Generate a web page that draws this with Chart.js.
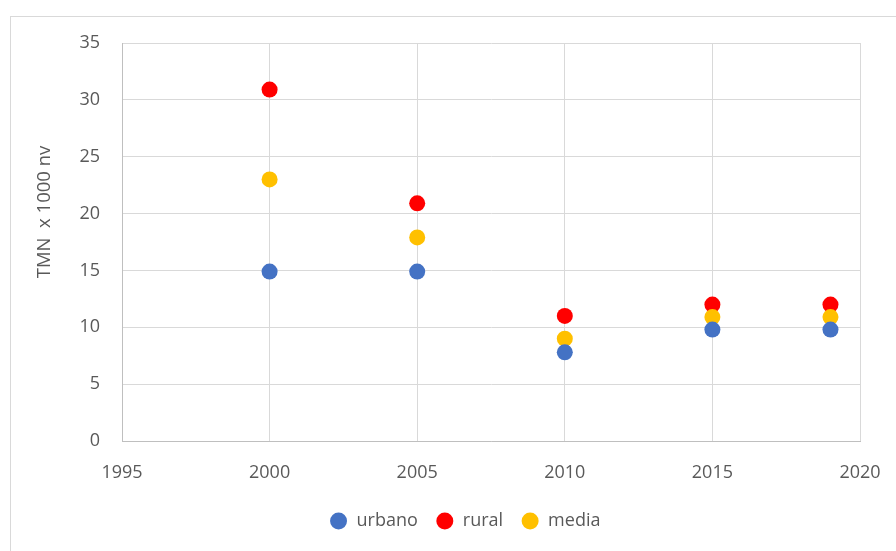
<!DOCTYPE html>
<html>
<head>
<meta charset="utf-8">
<script src="https://cdn.jsdelivr.net/npm/chart.js@4.4.1/dist/chart.umd.min.js"></script>
<style>
  body { margin: 0; background: #fff; }
  #frame {
    position: absolute; left: 10px; top: 16px;
    width: 900px; height: 600px;
    border: 1px solid #d9d9d9;
  }
  #wrap { position: absolute; left: 0; top: 0; width: 896px; height: 551px; }
</style>
</head>
<body>
<div id="frame"></div>
<div id="wrap"><canvas id="chart" width="896" height="551"></canvas></div>
<script>
const years = [2000, 2005, 2010, 2015, 2019];
const urbano = [14.9, 14.9, 7.8, 9.8, 9.8];
const rural = [30.9, 20.9, 11, 12, 12];
const media = [23, 17.9, 9, 10.9, 10.9];
const yTitle = "TMN  x 1000 nv";

const FONT = "'Open Sans', sans-serif";
const TEXT = "#595959";

const toPoints = (vals) => years.map((x, i) => ({ x: x, y: vals[i] }));

// rotated y-axis title, sitting left of the tick labels
const yTitlePlugin = {
  id: "yTitle",
  afterDraw(chart) {
    const ctx = chart.ctx;
    ctx.save();
    ctx.translate(45, 212);
    ctx.rotate(-Math.PI / 2);
    ctx.font = "18.5px " + FONT;
    ctx.fillStyle = TEXT;
    ctx.textAlign = "center";
    ctx.textBaseline = "middle";
    ctx.fillText(yTitle, 0, 0);
    ctx.restore();
  },
};

new Chart(document.getElementById("chart"), {
  type: "scatter",
  data: {
    datasets: [
      { label: "urbano", data: toPoints(urbano), backgroundColor: "#4472C4", borderColor: "#4472C4", order: 0 },
      { label: "rural", data: toPoints(rural), backgroundColor: "#FF0000", borderColor: "#FF0000", order: 2 },
      { label: "media", data: toPoints(media), backgroundColor: "#FFC000", borderColor: "#FFC000", order: 1 },
    ],
  },
  options: {
    responsive: false,
    animation: false,
    layout: { padding: { left: 70, top: 43, right: 36, bottom: 11 } },
    elements: { point: { radius: 8, hoverRadius: 8, borderWidth: 0 } },
    scales: {
      x: {
        type: "linear",
        min: 1995,
        max: 2020,
        afterFit: (s) => { s.height = 53; s.paddingLeft = 0; s.paddingRight = 0; },
        ticks: {
          stepSize: 5,
          padding: 21,
          color: TEXT,
          font: { family: FONT, size: 18 },
          callback: (v) => String(v),
        },
        grid: { color: "#d9d9d9", drawTicks: false },
        border: { color: "#bfbfbf", width: 1 },
      },
      y: {
        min: 0,
        max: 35,
        afterFit: (s) => { s.width = 52; s.paddingTop = 0; s.paddingBottom = 0; },
        ticks: {
          stepSize: 5,
          padding: 22,
          color: TEXT,
          font: { family: FONT, size: 18 },
        },
        grid: { color: "#d9d9d9", drawTicks: false },
        border: { color: "#bfbfbf", width: 1 },
      },
    },
    plugins: {
      tooltip: { enabled: false },
      legend: {
        position: "bottom",
        labels: {
          usePointStyle: true,
          pointStyle: "circle",
          boxHeight: 12,
          padding: 18,
          color: TEXT,
          font: { family: FONT, size: 18 },
          sort: (a, b) => a.datasetIndex - b.datasetIndex,
        },
      },
    },
  },
  plugins: [yTitlePlugin],
});
</script>
</body>
</html>
